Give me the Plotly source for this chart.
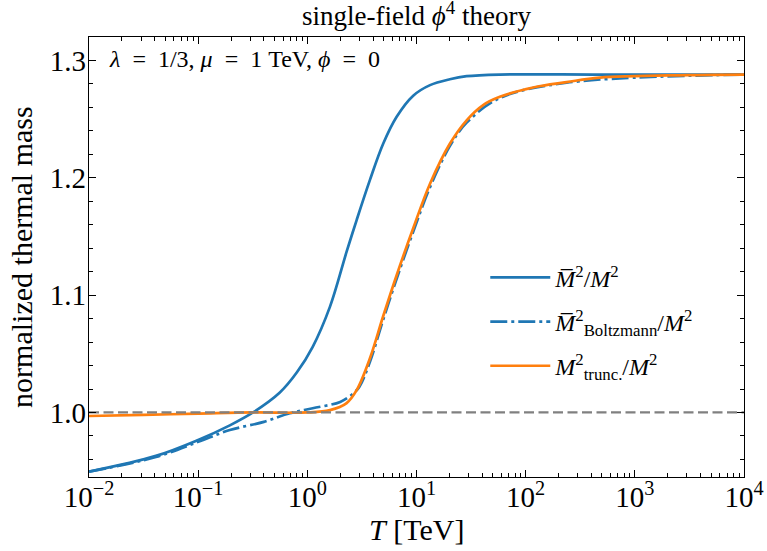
import plotly.graph_objects as go

# ---- data ----
T_full = [0.01, 0.041, 0.1, 0.195, 0.318, 0.56, 0.80, 1.12, 1.61, 2.29, 2.83,
          3.74, 4.95, 6.58, 9.33, 13.3, 20.2, 28.8, 58, 479, 10000]
M_full = [0.9496, 0.963, 0.9766, 0.989, 1.000, 1.017, 1.034, 1.056, 1.090, 1.137, 1.164,
          1.198, 1.229, 1.252, 1.270, 1.279, 1.284, 1.2866, 1.288, 1.288, 1.288]

T_boltz = [0.01, 0.041, 0.1, 0.195, 0.4, 0.69, 1.12, 2.0, 2.62, 3.0, 3.74,
           4.95, 6.58, 9.33, 13.3, 20.2, 28.8, 58, 237, 10000]
M_boltz = [0.9496, 0.962, 0.975, 0.985, 0.992, 0.9993, 1.0036, 1.009, 1.016, 1.022, 1.043,
           1.079, 1.114, 1.154, 1.192, 1.227, 1.247, 1.268, 1.281, 1.288]

T_trunc = [0.01, 0.0316, 0.1, 0.316, 1.0, 1.61, 2.29, 2.83, 3.74, 4.95,
           6.58, 9.33, 13.3, 20.2, 28.8, 40.8, 58, 117, 237, 479, 3000, 10000]
M_trunc = [0.997, 0.998, 0.999, 1.000, 1.000, 1.002, 1.008, 1.019, 1.046, 1.082,
           1.117, 1.157, 1.195, 1.229, 1.249, 1.262, 1.269, 1.277, 1.2815, 1.2854, 1.2875, 1.288]

T_ref = [0.01, 10000]
M_ref = [1.0, 1.0]

x_tickvals = [0.01, 0.1, 1, 10, 100, 1000, 10000]
x_ticktext = ["10<sup>−2</sup>", "10<sup>−1</sup>", "10<sup>0</sup>", "10<sup>1</sup>",
              "10<sup>2</sup>", "10<sup>3</sup>", "10<sup>4</sup>"]
y_tickvals = [1.0, 1.1, 1.2, 1.3]
y_ticktext = ["1.0", "1.1", "1.2", "1.3"]

names = ["<i>M̅</i><sup>2</sup>/<i>M</i><sup>2</sup>",
         "<i>M̅</i><sup>2</sup><sub>Boltzmann</sub>/<i>M</i><sup>2</sup>",
         "<i>M</i><sup>2</sup><sub>trunc.</sub>/<i>M</i><sup>2</sup>"]

BLUE = "#1f77b4"
ORANGE = "#ff7f0e"
FONT = "Liberation Serif"
LW = 2.7
EQ = "\u2002=\u2002"

fig = go.Figure()
fig.add_trace(go.Scatter(x=T_full, y=M_full, mode="lines", name=names[0], legendgroup="a",
                         line=dict(color=BLUE, width=LW, shape="spline", smoothing=1.0)))
fig.add_trace(go.Scatter(x=T_boltz, y=M_boltz, mode="lines", name=names[1], legendgroup="b",
                         line=dict(color=BLUE, width=LW, dash="17px,4px,3px,4px", shape="spline", smoothing=1.0)))
fig.add_trace(go.Scatter(x=T_trunc, y=M_trunc, mode="lines", name=names[2], legendgroup="c",
                         line=dict(color=ORANGE, width=LW, shape="spline", smoothing=1.0)))
fig.add_trace(go.Scatter(x=T_ref, y=M_ref, mode="lines", showlegend=False,
                         line=dict(color="#808080", width=2.3, dash="10px,4.5px")))

axis_common = dict(showgrid=False, zeroline=False, showline=True, linecolor="black", linewidth=1.2,
                   ticks="inside", ticklen=7, tickwidth=1.1, tickcolor="black", mirror="allticks",
                   tickfont=dict(family=FONT, size=29, color="black"))

fig.update_xaxes(type="log", range=[-2, 4], tickmode="array", tickvals=x_tickvals, ticktext=x_ticktext,
                 minor=dict(ticks="inside", ticklen=4, tickwidth=1, tickcolor="black", dtick="D1"),
                 ticklabelstandoff=-6, **axis_common)
fig.update_yaxes(range=[0.945, 1.32], tickmode="array", tickvals=y_tickvals, ticktext=y_ticktext,
                 minor=dict(ticks="inside", ticklen=4, tickwidth=1, tickcolor="black", dtick=0.02),
                 ticklabelstandoff=-4, **axis_common)

# axis titles
fig.add_annotation(text="<i>T</i> [TeV]", xref="paper", yref="paper", x=0.5, y=-0.120,
                   xanchor="center", yanchor="middle", showarrow=False,
                   font=dict(family=FONT, size=30, color="black"))
fig.add_annotation(text="normalized thermal mass", xref="paper", yref="paper", x=-0.104, y=0.5,
                   xanchor="center", yanchor="middle", textangle=-90, showarrow=False,
                   font=dict(family=FONT, size=30, color="black"))

fig.add_annotation(text="<i>λ</i>" + EQ + "1/3, <i>μ</i>" + EQ + "1 TeV, <i>ϕ</i>" + EQ + "0",
                   xref="paper", yref="paper",
                   x=0.027, y=0.951, xanchor="left", yanchor="middle", showarrow=False,
                   font=dict(family=FONT, size=24, color="black"))

fig.update_layout(
    width=767, height=551,
    margin=dict(l=89, r=23, t=37, b=74, autoexpand=False),
    paper_bgcolor="white", plot_bgcolor="white",
    title=dict(text="single-field <i>ϕ</i><sup>4</sup> theory", x=0.543, xanchor="center",
               y=0.971, yanchor="middle", font=dict(family=FONT, size=27, color="black")),
    legend=dict(x=0.605, y=0.504, xanchor="left", yanchor="top", bgcolor="rgba(0,0,0,0)",
                font=dict(family=FONT, size=24, color="black"), tracegroupgap=10, itemwidth=60),
    showlegend=True,
)

fig.write_html("out.html", config={"displayModeBar": False},
               post_script="document.body.style.margin='0px';")
